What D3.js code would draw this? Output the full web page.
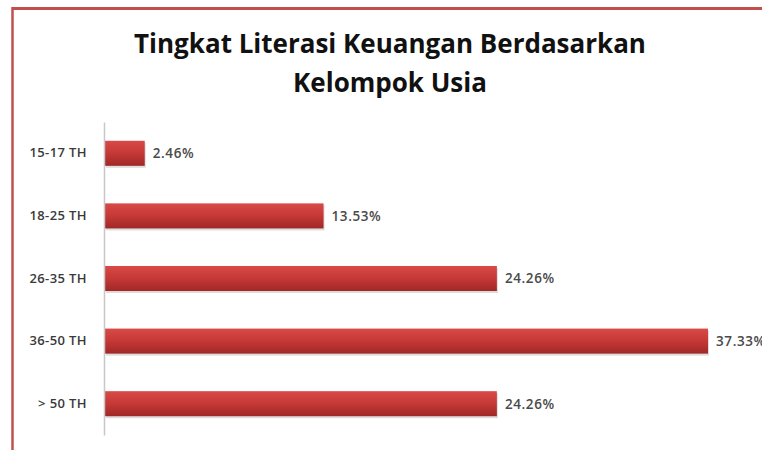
<!DOCTYPE html>
<html>
<head>
<meta charset="utf-8">
<script src="https://cdn.jsdelivr.net/npm/d3@7"></script>
<style>
  body { margin: 0; background: #fff; }
  svg { display: block; }
</style>
</head>
<body>
<div id="wrapper"></div>
<script>
// data
const categories = ["15-17 TH", "18-25 TH", "26-35 TH", "36-50 TH", "> 50 TH"];
const values = [2.46, 13.53, 24.26, 37.33, 24.26];
const titleLines = ["Tingkat Literasi Keuangan Berdasarkan", "Kelompok Usia"];

function drawBarChart() {
    const dimensions = {
        width: 762,
        height: 450,
        margin: { top: 122, right: 54, bottom: 15, left: 105 }
    };
    dimensions.boundedWidth = dimensions.width - dimensions.margin.left - dimensions.margin.right;
    dimensions.boundedHeight = dimensions.height - dimensions.margin.top - dimensions.margin.bottom;

    const wrapper = d3.select("#wrapper")
        .append("svg")
        .attr("width", dimensions.width)
        .attr("height", dimensions.height);

    const defs = wrapper.append("defs");
    const grad = defs.append("linearGradient")
        .attr("id", "barGrad")
        .attr("x1", 0).attr("y1", 0).attr("x2", 0).attr("y2", 1);
    grad.append("stop").attr("offset", "0%").attr("stop-color", "#d84a48");
    grad.append("stop").attr("offset", "45%").attr("stop-color", "#c83a38");
    grad.append("stop").attr("offset", "100%").attr("stop-color", "#a02826");

    // frame (top and left edge of the chart area)
    wrapper.append("line")
        .attr("x1", 12).attr("x2", dimensions.width)
        .attr("y1", 8.5).attr("y2", 8.5)
        .attr("stroke", "#c0504d").attr("stroke-width", 3);
    wrapper.append("line")
        .attr("x1", 12.5).attr("x2", 12.5)
        .attr("y1", 7).attr("y2", dimensions.height)
        .attr("stroke", "#c0504d").attr("stroke-width", 2.5);

    // title
    wrapper.append("text")
        .attr("text-anchor", "middle")
        .attr("font-family", "'Open Sans', sans-serif")
        .attr("font-weight", "bold")
        .attr("font-size", 26)
        .attr("fill", "#111")
        .selectAll("tspan")
        .data(titleLines)
        .join("tspan")
        .attr("x", 390)
        .attr("y", (d, i) => 53 + i * 39)
        .text(d => d);

    const bounds = wrapper.append("g")
        .attr("transform", `translate(${dimensions.margin.left},${dimensions.margin.top})`);

    const xScale = d3.scaleLinear()
        .domain([0, 37.33])
        .range([0, 603]);

    const yScale = d3.scaleBand()
        .domain(categories)
        .range([0, dimensions.boundedHeight])
        .paddingInner(0.6)
        .paddingOuter(0.3);

    // shadows
    bounds.append("g").selectAll("rect")
        .data(values)
        .join("rect")
        .attr("x", 1)
        .attr("y", (d, i) => yScale(categories[i]) + 2)
        .attr("width", d => xScale(d))
        .attr("height", yScale.bandwidth())
        .attr("fill", "#bbb")
        .attr("opacity", 0.5);

    // bars
    bounds.append("g").selectAll("rect")
        .data(values)
        .join("rect")
        .attr("x", 0)
        .attr("y", (d, i) => yScale(categories[i]))
        .attr("width", d => xScale(d))
        .attr("height", yScale.bandwidth())
        .attr("fill", "url(#barGrad)");

    // value labels
    bounds.append("g").selectAll("text")
        .data(values)
        .join("text")
        .attr("x", d => xScale(d) + 8)
        .attr("y", (d, i) => yScale(categories[i]) + yScale.bandwidth() / 2)
        .attr("dy", "0.36em")
        .attr("font-family", "'Open Sans', sans-serif")
        .attr("font-weight", 600)
        .attr("font-size", 13.5)
        .attr("letter-spacing", 0.6)
        .attr("fill", "#4a4a4a")
        .text(d => d.toFixed(2) + "%");

    // y axis
    const yAxisDrawer = d3.axisLeft(yScale).tickSize(0).tickPadding(17);
    const yAxis = bounds.append("g")
        .attr("transform", "translate(-1,0)")
        .call(yAxisDrawer);
    yAxis.select(".domain").attr("stroke", "#c8c8c8").attr("stroke-width", 1.5);
    yAxis.selectAll("text")
        .attr("font-family", "'Open Sans', sans-serif")
        .attr("font-weight", 600)
        .attr("font-size", 13)
        .attr("letter-spacing", 0.4)
        .attr("fill", "#3a3a3a");
}

drawBarChart();
</script>
</body>
</html>
